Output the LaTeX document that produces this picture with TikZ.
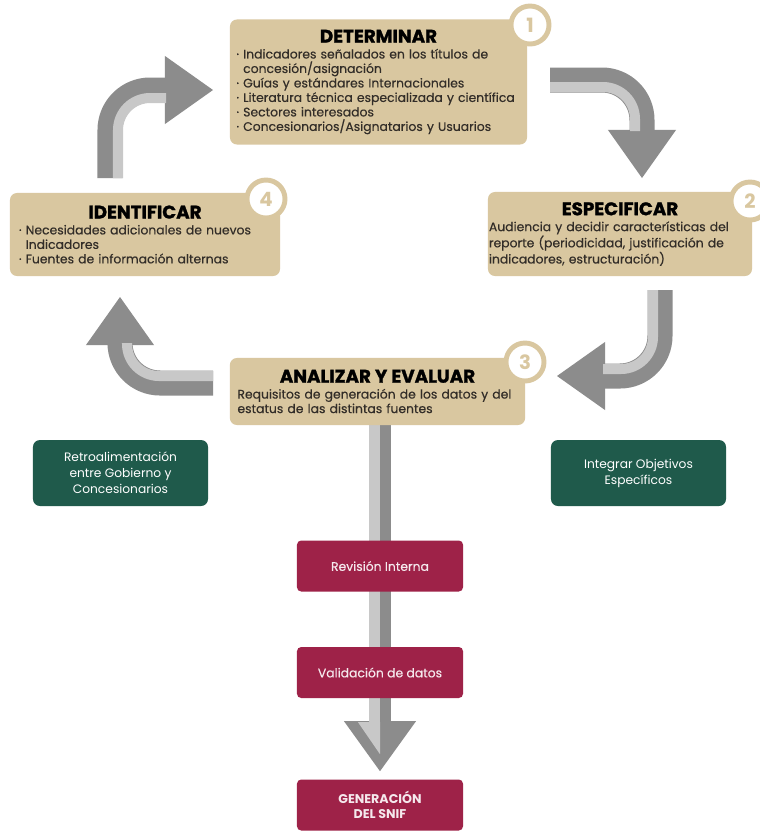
\documentclass[tikz,border=0pt]{standalone}
\usepackage{fontspec}
\setmainfont{Poppins}
\usetikzlibrary{arrows.meta, positioning, calc, backgrounds}
\definecolor{sand}{RGB}{217,199,160}
\definecolor{pine}{RGB}{31,90,75}
\definecolor{wine}{RGB}{158,34,72}
\definecolor{ink}{RGB}{50,45,40}
\definecolor{greydark}{RGB}{140,140,140}
\definecolor{greylight}{RGB}{200,200,200}
\newcommand{\steptitle}[1]{\makebox[\linewidth]{\bfseries\addfontfeature{FakeBold=1.4}\fontsize{13}{13}\selectfont\color{black}#1}}
\tikzset{
    stepbox/.style={rectangle, fill=sand, rounded corners=5pt, align=left, text=ink, font=\addfontfeature{FakeBold=0.4}\fontsize{8.8}{10.3}\selectfont, inner ysep=0pt},
    numring/.style={circle, draw=sand, line width=3.5pt, fill=white, minimum size=0.95cm, inner sep=0pt, text=sand, font=\bfseries\fontsize{14}{14}\selectfont},
    greenbox/.style={rectangle, fill=pine, rounded corners=5pt, minimum width=4.375cm, minimum height=1.65cm, align=center, text=white, font=\fontsize{8.7}{11.4}\selectfont},
    redbox/.style={rectangle, fill=wine, rounded corners=3pt, minimum width=4.15cm, minimum height=1.275cm, align=center, text=white!90!wine, font=\addfontfeature{FakeBold=0.3}\fontsize{8.8}{10.5}\selectfont},
    turn/.style={draw=greydark, line width=0.625cm, line cap=butt, rounded corners=1cm, -{Triangle[length=1.2cm, width=1.7cm, line width=0pt]}},
    stripe/.style={draw=greylight, line width=0.25cm, line cap=butt, rounded corners=0.8cm}
}
\begin{document}
\lineskiplimit=-10pt
\begin{tikzpicture}[x=0.025cm, y=-0.025cm]
    \useasboundingbox (0,0) rectangle (760,831);

    % the four steps
    \node (det) [stepbox, minimum width=7.425cm, minimum height=3.125cm, text width=7.1cm, inner xsep=0.16cm] at (378.5,82) {\steptitle{DETERMINAR}\\[1pt]
        · Indicadores señalados en los títulos de\\
        \hphantom{· }concesión/asignación\\
        · Guías y estándares Internacionales\\
        · Literatura técnica especializada y científica\\
        · Sectores interesados\\
        · Concesionarios/Asignatarios y Usuarios};
    \node (esp) [stepbox, minimum width=6.6cm, minimum height=2.1cm, text width=6.55cm, inner xsep=0.025cm] at (620,234) {\steptitle{ESPECIFICAR}\\[1pt]
        Audiencia y decidir características del\\
        reporte (periodicidad, justificación de\\
        indicadores, estructuración)};
    \node (ana) [stepbox, minimum width=7.375cm, minimum height=1.675cm, text width=7.0cm, inner xsep=0.19cm] at (377.5,391.5) {\steptitle{ANALIZAR Y EVALUAR}\\[1pt]
        Requisitos de generación de los datos y del\\
        estatus de las distintas fuentes};
    \node (ide) [stepbox, minimum width=6.75cm, minimum height=2.075cm, text width=6.3cm, inner xsep=0.225cm] at (145,234.5) {\steptitle{IDENTIFICAR}\\[1pt]
        · Necesidades adicionales de nuevos\\
        \hphantom{· }Indicadores\\
        · Fuentes de información alternas};

    % numbers
    \node (c1) [numring] at (530,25) {1};
    \node (c2) [numring] at (750,201) {2};
    \node (c3) [numring] at (525,362) {3};
    \node (c4) [numring] at (266,199) {4};

    % side notes
    \node (retro) [greenbox] at (120.5,473) {Retroalimentación\\entre Gobierno y\\Concesionarios};
    \node (integ) [greenbox] at (638.5,473) {Integrar Objetivos\\Específicos};

    % final chain
    \node (rev) [redbox] at (380,566) {Revisión Interna};
    \node (val) [redbox] at (380,672.5) {Validación de datos};
    \node (gen) [redbox, font=\bfseries\fontsize{9}{11}\selectfont] at (380,805) {GENERACIÓN\\DEL SNIF};

    % main arrow behind the red boxes
    \begin{scope}[on background layer]
        \fill[white] (0,0) rectangle (760,831);
        \draw[turn, line width=0.55cm, -{Triangle[length=1.25cm, width=1.8cm, line width=0pt]}] (ana.south -| rev.center) -- ($(gen.north)+(0,-8)$);
        \draw[stripe, line width=0.27cm] ($(ana.south -| rev.center)+(-5.5,0)$) -- ($(gen.north)+(-5.5,-57)$);
        \fill[greylight] ($(gen.north)+(-22,-57)$) -- ($(gen.north)+(0,-57)$) -- ($(gen.north)+(0,-25)$) -- cycle;
    \end{scope}

    % turning arrows of the cycle
    \coordinate (t1s) at (110,178);
    \coordinate (t1e) at (213,90);
    \coordinate (t2s) at (550,80);
    \coordinate (t2e) at (642,178);
    \coordinate (t3s) at (660,290);
    \coordinate (t3e) at (557,376);
    \coordinate (t4s) at (213,383);
    \coordinate (t4e) at (120,297);

    \draw[turn] (t1s) |- (t1e);
    \draw[stripe] ($(t1s)+(8,0)$) |- (166,98);
    \draw[turn] (t2s) -| (t2e);
    \draw[stripe] ($(t2s)+(0,7)$) -| (635,131);
    \draw[turn] (t3s) |- (t3e);
    \draw[stripe] ($(t3s)+(-7,0)$) |- (603,369);
    \draw[turn] (t4s) -| (t4e);
    \draw[stripe] ($(t4s)+(0,-7)$) -| (127,343);
\end{tikzpicture}
\end{document}
